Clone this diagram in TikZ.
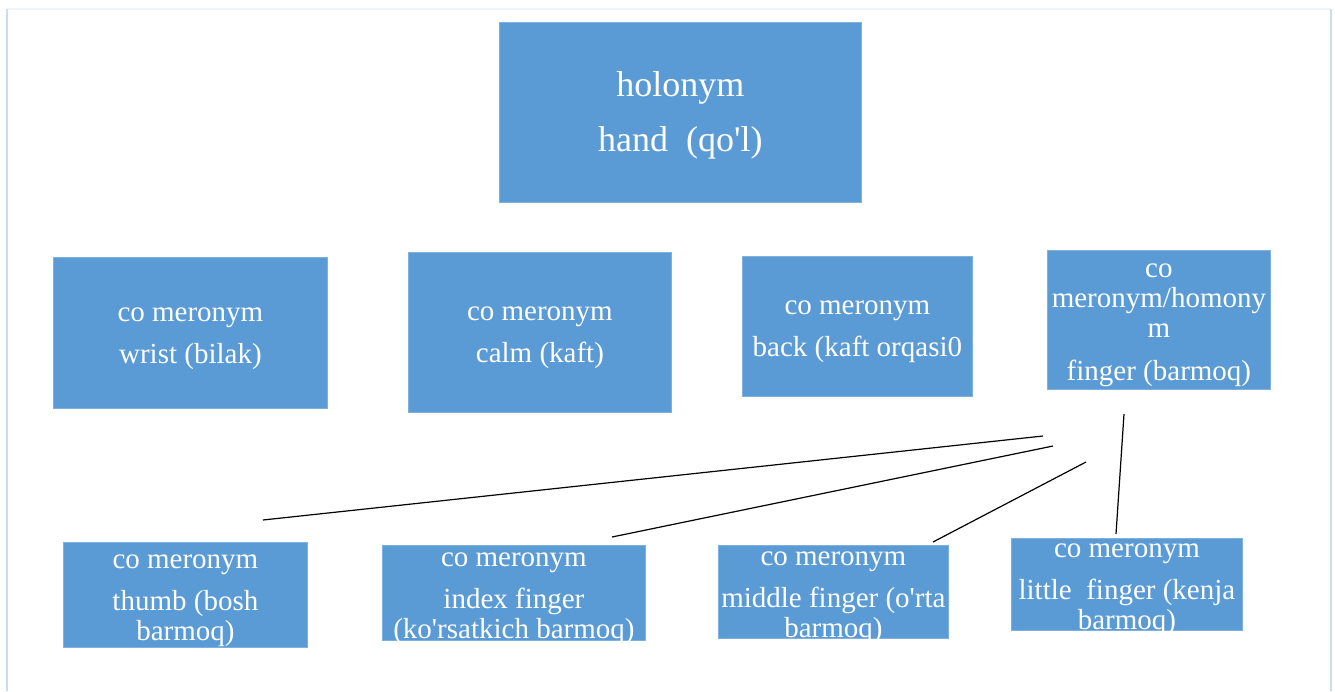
\documentclass[tikz,border=0pt]{standalone}
\usepackage{fontspec}
\setmainfont{Liberation Serif}
\definecolor{boxblue}{HTML}{5B9BD5}
\definecolor{boxedge}{HTML}{80B0DE}
\definecolor{frameside}{HTML}{C9DCF0}
\definecolor{frametop}{HTML}{EEF4FA}

\begin{document}
\begin{tikzpicture}[x=1pt,y=-1pt]
  \def\WIDTH{1335}
  \def\HEIGHT{691}
  \def\FLEFT{7}
  \def\FRIGHT{1331}
  \def\FTOP{9}
  \def\LIFT{\rule{0pt}{0.87em}}

  \tikzset{
      box/.style={fill=boxblue,draw=boxedge,line width=0.8pt,text=white,
        align=center,inner xsep=0pt,inner ysep=-20pt,anchor=north west},
      small/.style={font=\fontsize{29}{30}\selectfont},
      big/.style={font=\fontsize{36}{37}\selectfont},
      link/.style={black,line width=1.2pt},
  }

  \useasboundingbox (0,0) rectangle (\WIDTH,\HEIGHT);
  \draw [frametop,line width=2pt] (\FLEFT,\FTOP) -- (\FRIGHT,\FTOP);
  \draw [frameside,line width=2pt] (\FLEFT,\FTOP) -- (\FLEFT,\HEIGHT)
    (\FRIGHT,\FTOP) -- (\FRIGHT,\HEIGHT);

  % whole
  \node [box,big,minimum width=362pt,minimum height=180pt] (hand) at (499,22)
    {\LIFT holonym\\[18pt]hand\ \ (qo\textquotesingle l)};

  % parts of the hand
  \node [box,small,minimum width=274pt,minimum height=151pt] (wrist) at (53,257)
    {\LIFT co meronym\\[12pt]wrist (bilak)};
  \node [box,small,minimum width=263pt,minimum height=160pt] (calm) at (408,252)
    {\LIFT co meronym\\[12pt]calm (kaft)};
  \node [box,small,minimum width=230pt,minimum height=140pt] (back) at (742,256)
    {\LIFT co meronym\\[12pt]back (kaft orqasi0};
  \node [box,small,minimum width=223pt,minimum height=139pt] (finger) at (1047,250)
    {\LIFT co\\meronym/homony\\m\\[13pt]finger (barmoq)};

  % fingers
  \node [box,small,minimum width=244pt,minimum height=105pt] (thumb) at (63,542)
    {\LIFT co meronym\\[12pt]thumb (bosh\\barmoq)};
  \node [box,small,minimum width=263pt,minimum height=95pt] (index) at (382,545)
    {\LIFT co meronym\\[12pt]index finger\\(ko\textquotesingle rsatkich barmoq)};
  \node [box,small,minimum width=230pt,minimum height=93pt] (middle) at (718,545)
    {\LIFT co meronym\\[12pt]middle finger (o\textquotesingle rta\\barmoq)};
  \node [box,small,minimum width=231pt,minimum height=92pt] (little) at (1011,538)
    {\LIFT co meronym\\[12pt]little\ \ finger (kenja\\barmoq)};

  % loose connectors
  \coordinate (fa) at (1043,436);
  \coordinate (fb) at (1053,446);
  \coordinate (fc) at (1086,462);
  \coordinate (fd) at (1124,414);
  \coordinate (ta) at (263,520);
  \coordinate (tb) at (612,537);
  \coordinate (tc) at (933,542);
  \coordinate (td) at (1116,534);
  \draw [link] (fa) -- (ta);
  \draw [link] (fb) -- (tb);
  \draw [link] (fc) -- (tc);
  \draw [link] (fd) -- (td);
\end{tikzpicture}
\end{document}
